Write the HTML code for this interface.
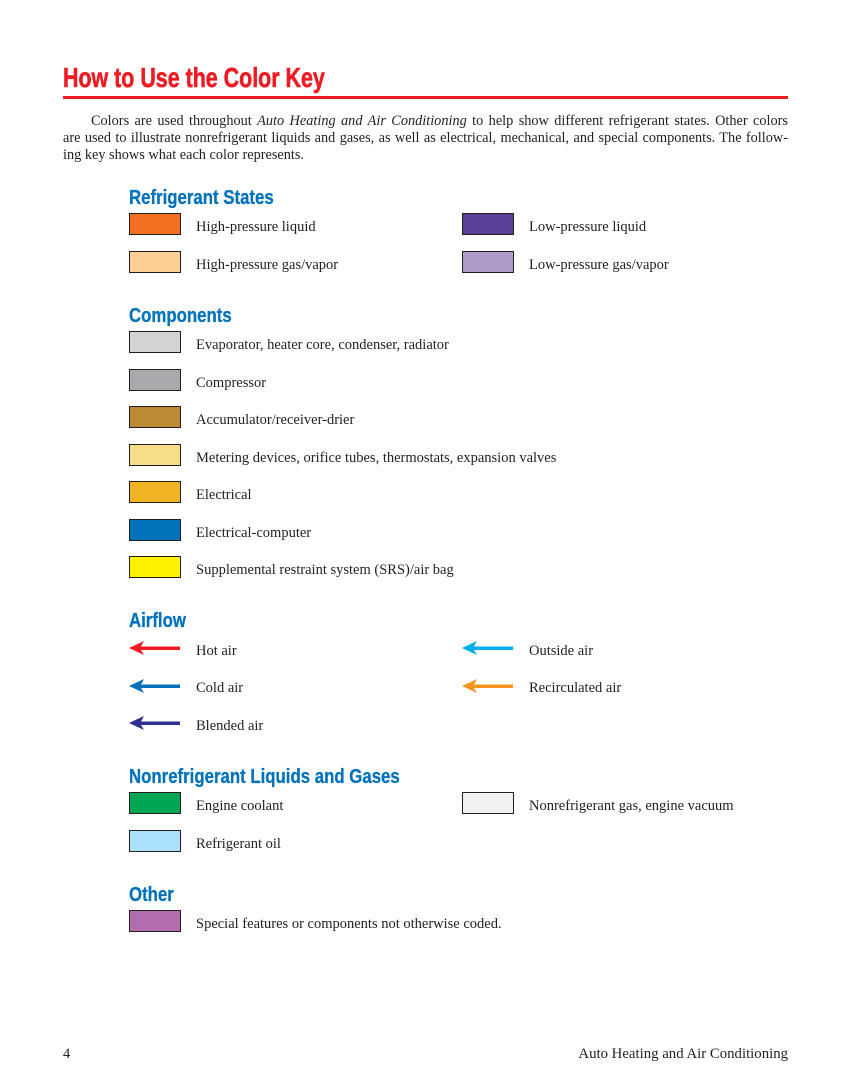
<!DOCTYPE html>
<html><head><style>
body{margin:0;width:849px;height:1087px;background:#fff;position:relative;overflow:hidden;font-family:"Liberation Serif",serif;color:#231f20}
h1{position:absolute;left:63px;top:62px;margin:0;font:bold 28px "Liberation Sans",sans-serif;color:#ed1c24;transform:scaleX(0.765);transform-origin:left;white-space:nowrap;-webkit-text-stroke:0.6px #ed1c24}
.rule{position:absolute;left:63px;top:96px;width:725px;height:3px;background:#ed1c24}
.p{position:absolute;left:63px;width:725px;font-size:14.3px;line-height:17px;text-align:justify;text-align-last:justify;white-space:nowrap}
h2{position:absolute;left:129px;margin:0;font:bold 20px "Liberation Sans",sans-serif;color:#0072bc;transform:scaleX(0.84);transform-origin:left;white-space:nowrap;-webkit-text-stroke:0.3px #0072bc}
.sw{position:absolute;width:50px;height:20px;border:1px solid #231f20}
.t{position:absolute;font-size:14.5px;white-space:nowrap;margin-top:2px}
svg{position:absolute}
</style></head><body>
<h1>How to Use the Color Key</h1>
<div class="rule"></div>
<div class="p" style="top:113px"><span style="display:inline-block;width:28px"></span>Colors are used throughout <i>Auto Heating and Air Conditioning</i> to help show different refrigerant states. Other colors</div>
<div class="p" style="top:130px">are used to illustrate nonrefrigerant liquids and gases, as well as electrical, mechanical, and special components. The follow-</div>
<div class="p" style="top:147px;text-align-last:left">ing key shows what each color represents.</div>

<h2 style="top:187px">Refrigerant States</h2>
<div class="sw" style="left:129px;top:213px;background:#f37021"></div><div class="t" style="left:196px;top:217px">High-pressure liquid</div>
<div class="sw" style="left:462px;top:213px;background:#5b3f99"></div><div class="t" style="left:529px;top:217px">Low-pressure liquid</div>
<div class="sw" style="left:129px;top:251px;background:#fdcf92"></div><div class="t" style="left:196px;top:255px">High-pressure gas/vapor</div>
<div class="sw" style="left:462px;top:251px;background:#b09ac9"></div><div class="t" style="left:529px;top:255px">Low-pressure gas/vapor</div>

<h2 style="top:305px">Components</h2>
<div class="sw" style="left:129px;top:331px;background:#d1d3d4"></div><div class="t" style="left:196px;top:335px">Evaporator, heater core, condenser, radiator</div>
<div class="sw" style="left:129px;top:369px;background:#a7a9ac"></div><div class="t" style="left:196px;top:373px">Compressor</div>
<div class="sw" style="left:129px;top:406px;background:#bc8a35"></div><div class="t" style="left:196px;top:410px">Accumulator/receiver-drier</div>
<div class="sw" style="left:129px;top:444px;background:#f5de87"></div><div class="t" style="left:196px;top:448px">Metering devices, orifice tubes, thermostats, expansion valves</div>
<div class="sw" style="left:129px;top:481px;background:#f0b323"></div><div class="t" style="left:196px;top:485px">Electrical</div>
<div class="sw" style="left:129px;top:519px;background:#0072bc"></div><div class="t" style="left:196px;top:523px">Electrical-computer</div>
<div class="sw" style="left:129px;top:556px;background:#fff200"></div><div class="t" style="left:196px;top:560px">Supplemental restraint system (SRS)/air bag</div>

<h2 style="top:610px">Airflow</h2>
<svg width="849" height="1087" style="left:0;top:0">
<path d="M129,648 L144,641 L141,646.5 L180,646.5 L180,650 L141,650 L144,655 Z" fill="#ed1c24"/>
<path d="M129,686 L144,679 L141,684.5 L180,684.5 L180,688 L141,688 L144,693 Z" fill="#0072bc"/>
<path d="M129,723 L144,716 L141,721.5 L180,721.5 L180,725 L141,725 L144,730 Z" fill="#2e3192"/>
<path d="M462,648 L477,641 L474,646.5 L513,646.5 L513,650 L474,650 L477,655 Z" fill="#00aeef"/>
<path d="M462,686 L477,679 L474,684.5 L513,684.5 L513,688 L474,688 L477,693 Z" fill="#f7941d"/>
</svg>
<div class="t" style="left:196px;top:641px">Hot air</div>
<div class="t" style="left:196px;top:678px">Cold air</div>
<div class="t" style="left:196px;top:716px">Blended air</div>
<div class="t" style="left:529px;top:641px">Outside air</div>
<div class="t" style="left:529px;top:678px">Recirculated air</div>

<h2 style="top:766px">Nonrefrigerant Liquids and Gases</h2>
<div class="sw" style="left:129px;top:792px;background:#00a651"></div><div class="t" style="left:196px;top:796px">Engine coolant</div>
<div class="sw" style="left:462px;top:792px;background:#f1f1f2"></div><div class="t" style="left:529px;top:796px">Nonrefrigerant gas, engine vacuum</div>
<div class="sw" style="left:129px;top:830px;background:#abe1fa"></div><div class="t" style="left:196px;top:834px">Refrigerant oil</div>

<h2 style="top:884px">Other</h2>
<div class="sw" style="left:129px;top:910px;background:#b36cae"></div><div class="t" style="left:196px;top:914px">Special features or components not otherwise coded.</div>

<div class="t" style="left:63px;top:1044px">4</div>
<div class="t" style="right:61px;top:1044px;font-size:14.8px">Auto Heating and Air Conditioning</div>
</body></html>
